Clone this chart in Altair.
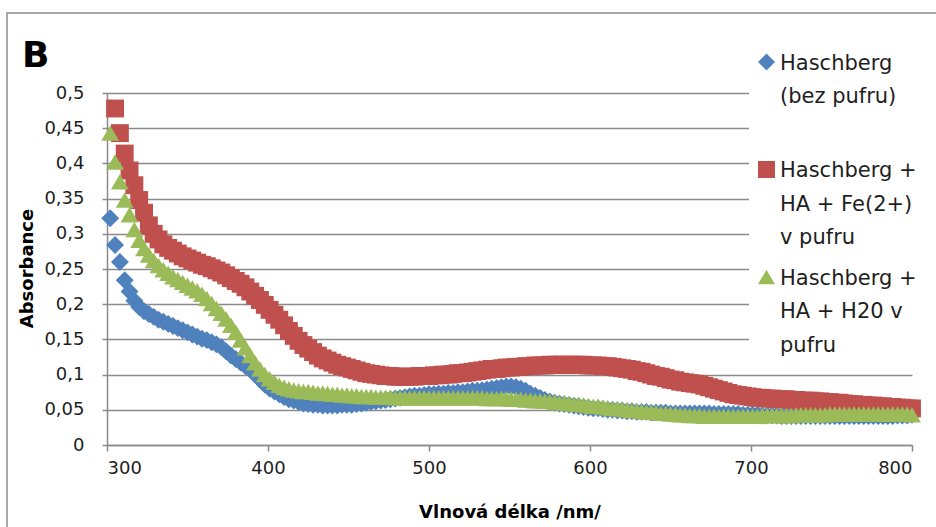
import altair as alt
import pandas as pd

# ---------------- data ----------------
wavelengths = list(range(302, 801, 3))  # nm, one measurement every 3 nm

blue = [  # Haschberg (bez pufru)
    0.322, 0.284, 0.260, 0.234, 0.218, 0.205, 0.196, 0.190, 0.186, 0.182,
    0.178, 0.175, 0.172, 0.169, 0.166, 0.163, 0.160, 0.157, 0.154, 0.151,
    0.149, 0.146, 0.143, 0.139, 0.133, 0.127, 0.122, 0.117, 0.112, 0.107,
    0.100, 0.093, 0.086, 0.080, 0.076, 0.072, 0.068, 0.065, 0.063, 0.061,
    0.059, 0.058, 0.057, 0.057, 0.056, 0.056, 0.056, 0.056, 0.057, 0.057,
    0.057, 0.058, 0.059, 0.060, 0.061, 0.062, 0.063, 0.064, 0.065, 0.066,
    0.067, 0.068, 0.069, 0.070, 0.070, 0.071, 0.072, 0.072, 0.073, 0.073,
    0.074, 0.074, 0.075, 0.075, 0.076, 0.077, 0.077, 0.078, 0.079, 0.080,
    0.081, 0.082, 0.083, 0.083, 0.082, 0.080, 0.077, 0.073, 0.070, 0.067,
    0.064, 0.062, 0.060, 0.059, 0.058, 0.057, 0.056, 0.055, 0.054, 0.053,
    0.052, 0.052, 0.051, 0.050, 0.050, 0.049, 0.049, 0.048, 0.048, 0.047,
    0.047, 0.047, 0.046, 0.046, 0.046, 0.046, 0.045, 0.045, 0.045, 0.045,
    0.045, 0.045, 0.045, 0.045, 0.045, 0.044, 0.044, 0.044, 0.044, 0.044,
    0.044, 0.043, 0.043, 0.043, 0.043, 0.042, 0.042, 0.042, 0.042, 0.041,
    0.041, 0.041, 0.041, 0.041, 0.041, 0.041, 0.041, 0.041, 0.041, 0.041,
    0.041, 0.041, 0.041, 0.041, 0.041, 0.041, 0.041, 0.041, 0.041, 0.041,
    0.041, 0.041, 0.041, 0.042, 0.042, 0.042, 0.043,
]

red = [  # Haschberg + HA + Fe(2+) v pufru (first point is off the 0.5 scale)
    None, 0.478, 0.443, 0.414, 0.390, 0.369, 0.348, 0.330, 0.312, 0.300,
    0.292, 0.285, 0.280, 0.276, 0.272, 0.268, 0.265, 0.262, 0.259, 0.256,
    0.254, 0.251, 0.248, 0.245, 0.241, 0.237, 0.233, 0.229, 0.224, 0.218,
    0.212, 0.206, 0.199, 0.192, 0.185, 0.178, 0.170, 0.162, 0.155, 0.148,
    0.142, 0.137, 0.132, 0.127, 0.123, 0.120, 0.117, 0.114, 0.112, 0.110,
    0.108, 0.106, 0.104, 0.102, 0.101, 0.100, 0.099, 0.098, 0.098, 0.097,
    0.097, 0.097, 0.097, 0.097, 0.098, 0.098, 0.098, 0.099, 0.099, 0.100,
    0.100, 0.101, 0.102, 0.102, 0.103, 0.104, 0.105, 0.106, 0.107, 0.108,
    0.108, 0.109, 0.110, 0.110, 0.111, 0.111, 0.112, 0.112, 0.113, 0.113,
    0.113, 0.114, 0.114, 0.114, 0.114, 0.114, 0.114, 0.114, 0.114, 0.113,
    0.113, 0.113, 0.112, 0.112, 0.111, 0.110, 0.109, 0.108, 0.107, 0.105,
    0.104, 0.102, 0.100, 0.098, 0.097, 0.095, 0.093, 0.092, 0.090, 0.089,
    0.088, 0.087, 0.086, 0.084, 0.082, 0.080, 0.078, 0.076, 0.074, 0.072,
    0.071, 0.070, 0.069, 0.068, 0.067, 0.067, 0.066, 0.066, 0.065, 0.065,
    0.065, 0.064, 0.064, 0.063, 0.063, 0.063, 0.062, 0.062, 0.061, 0.061,
    0.060, 0.060, 0.059, 0.058, 0.058, 0.057, 0.057, 0.056, 0.056, 0.055,
    0.055, 0.054, 0.054, 0.053, 0.053, 0.052, 0.052,
]

green = [  # Haschberg + HA + H20 v pufru
    0.443, 0.402, 0.374, 0.348, 0.327, 0.306, 0.291, 0.279, 0.270, 0.262,
    0.255, 0.249, 0.244, 0.239, 0.235, 0.231, 0.227, 0.223, 0.219, 0.214,
    0.208, 0.201, 0.194, 0.187, 0.179, 0.170, 0.160, 0.149, 0.138, 0.127,
    0.117, 0.108, 0.100, 0.094, 0.089, 0.085, 0.082, 0.080, 0.078, 0.077,
    0.076, 0.076, 0.075, 0.074, 0.074, 0.073, 0.072, 0.072, 0.071, 0.071,
    0.070, 0.070, 0.069, 0.069, 0.069, 0.068, 0.068, 0.068, 0.068, 0.067,
    0.067, 0.067, 0.067, 0.067, 0.067, 0.067, 0.067, 0.067, 0.067, 0.067,
    0.067, 0.067, 0.067, 0.067, 0.067, 0.067, 0.067, 0.067, 0.066, 0.066,
    0.066, 0.066, 0.066, 0.065, 0.065, 0.065, 0.064, 0.064, 0.063, 0.063,
    0.062, 0.062, 0.061, 0.060, 0.060, 0.059, 0.058, 0.058, 0.057, 0.056,
    0.055, 0.055, 0.054, 0.053, 0.052, 0.052, 0.051, 0.050, 0.049, 0.049,
    0.048, 0.047, 0.047, 0.046, 0.045, 0.045, 0.044, 0.044, 0.043, 0.043,
    0.042, 0.042, 0.042, 0.041, 0.041, 0.041, 0.041, 0.041, 0.041, 0.041,
    0.041, 0.041, 0.041, 0.041, 0.041, 0.042, 0.042, 0.042, 0.042, 0.042,
    0.042, 0.042, 0.043, 0.043, 0.043, 0.043, 0.043, 0.043, 0.043, 0.044,
    0.044, 0.044, 0.044, 0.044, 0.044, 0.044, 0.044, 0.044, 0.044, 0.044,
    0.044, 0.044, 0.044, 0.044, 0.044, 0.044, 0.043,
]

series_names = [
    "Haschberg\n(bez pufru)",
    "Haschberg +\nHA + Fe(2+)\nv pufru",
    "Haschberg +\nHA + H20 v\npufru",
]
series_colors = ["#4F81BD", "#C0504D", "#9BBB59"]
series_shapes = ["diamond", "square", "triangle-up"]

x_ticks = [300, 400, 500, 600, 700, 800]
y_ticks = [0, 0.05, 0.1, 0.15, 0.2, 0.25, 0.3, 0.35, 0.4, 0.45, 0.5]

panel_letter = "B"
x_title = "Vlnová délka /nm/"
y_title = "Absorbance"

# ---------------- table ----------------
rows = []
for name, vals in zip(series_names, [blue, red, green]):
    for w, v in zip(wavelengths, vals):
        if v is not None:
            rows.append({"wl": w, "absorbance": v, "series": name})
df = pd.DataFrame(rows)

# ---------------- layout / style ----------------
W, H = 805, 352
FONT = "DejaVu Sans"
GRID = "#8a8a8a"
TXT = "#1e1e1e"
MSIZE = 320

color_scale = alt.Scale(domain=series_names, range=series_colors)
shape_scale = alt.Scale(domain=series_names, range=series_shapes)

points = alt.Chart(df).mark_point(
    filled=True, size=MSIZE, opacity=1, strokeWidth=0
).encode(
    x=alt.X(
        "wl:Q",
        scale=alt.Scale(domain=[300, 800], nice=False, zero=False),
        axis=alt.Axis(
            values=x_ticks, title=x_title, grid=False,
            domainColor=GRID, domainWidth=1.5,
            tickColor=GRID, tickWidth=1.5, tickSize=6,
            labelFont=FONT, labelFontSize=18, labelColor=TXT, labelPadding=8,
            titleFont=FONT, titleFontSize=18, titleFontWeight="bold",
            titleColor="#000000", titleY=67, titleBaseline="middle",
        ),
    ),
    y=alt.Y(
        "absorbance:Q",
        scale=alt.Scale(domain=[0, 0.5], nice=False),
        axis=alt.Axis(
            values=y_ticks, title=y_title, grid=True,
            gridColor=GRID, gridWidth=1.5,
            domainColor=GRID, domainWidth=1.5,
            tickColor=GRID, tickWidth=1.5, tickSize=5,
            labelFont=FONT, labelFontSize=18, labelColor=TXT, labelPadding=18,
            labelExpr="replace(format(datum.value, '.2~f'), '.', ',')",
            titleFont=FONT, titleFontSize=18, titleFontWeight="bold",
            titleColor="#000000", titleX=-80, titleY=175,
            titleAngle=270, titleBaseline="middle", titleAlign="center",
        ),
    ),
    color=alt.Color("series:N", scale=color_scale, legend=None),
    shape=alt.Shape("series:N", scale=shape_scale, legend=None),
)

one = pd.DataFrame({"k": [0]})

# outer chart frame (decoration)
frame = alt.Chart(one).mark_rect(
    fillOpacity=0, stroke=GRID, strokeWidth=1.5
).encode(x=alt.value(-100), y=alt.value(-80), x2=alt.value(850), y2=alt.value(460))

# legend (Excel style, drawn over the plot area)
LEG_X, LEG_Y0, LEG_STEP = 642, -31, 107.5
legend_bg = alt.Chart(one).mark_rect(fill="white", strokeWidth=0).encode(
    x=alt.value(LEG_X), x2=alt.value(835), y=alt.value(-60), y2=alt.value(268)
)
legend_layers = [legend_bg]
for i, (name, col, shp) in enumerate(zip(series_names, series_colors, series_shapes)):
    ldf = pd.DataFrame({"series": [name]})
    yc = LEG_Y0 + i * LEG_STEP
    legend_layers.append(
        alt.Chart(ldf).mark_point(
            filled=True, size=290, opacity=1, strokeWidth=0, shape=shp, color=col
        ).encode(x=alt.value(LEG_X + 17.5), y=alt.value(yc))
    )
    legend_layers.append(
        alt.Chart(ldf).mark_text(
            font=FONT, fontSize=21, color=TXT, align="left", baseline="alphabetic",
            lineBreak="\n", lineHeight=33.5,
        ).encode(text="series:N", x=alt.value(LEG_X + 31), y=alt.value(yc + 7.5))
    )

letter = alt.Chart(pd.DataFrame({"t": [panel_letter]})).mark_text(
    font=FONT, fontSize=36, fontWeight="bold", color="#000000",
    align="left", baseline="alphabetic",
).encode(text="t:N", x=alt.value(-85), y=alt.value(-26))

chart = alt.layer(frame, points, *legend_layers, letter).properties(
    width=W, height=H,
    autosize=alt.AutoSizeParams(type="none"),
    padding={"left": 107, "top": 93, "right": 24, "bottom": 82},
    background="white",
).configure_view(strokeWidth=0)

chart.save("out.html", embed_options={"renderer": "svg", "actions": False})
